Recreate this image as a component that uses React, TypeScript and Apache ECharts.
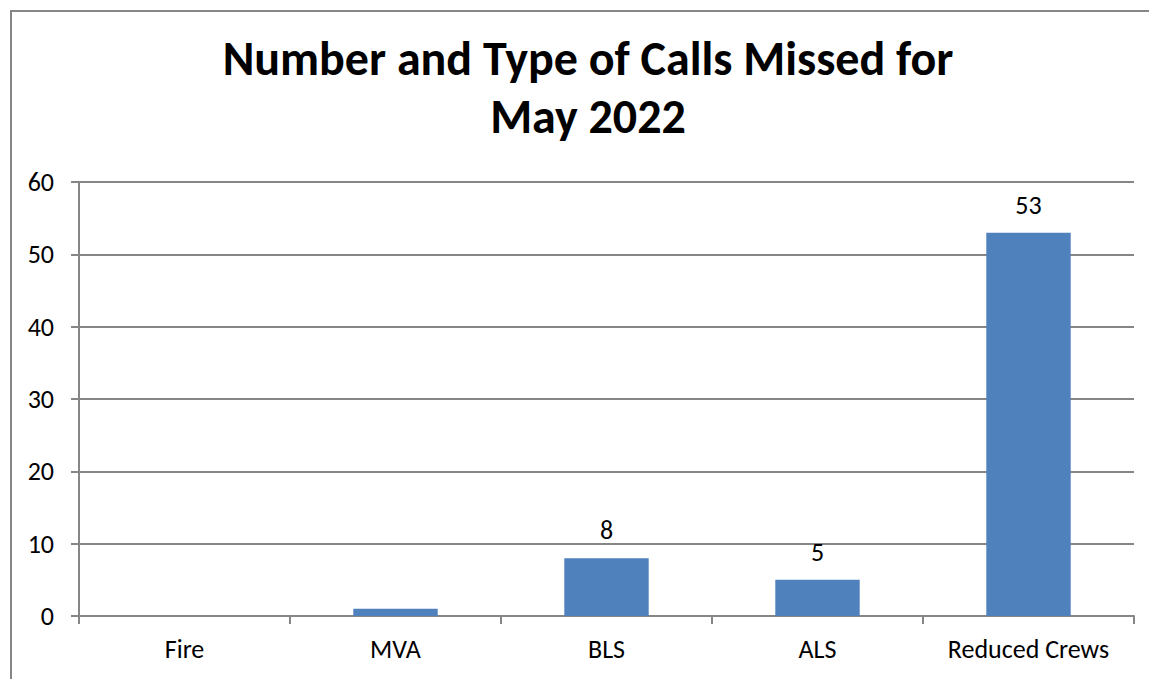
import React, { useEffect, useRef } from "react";
import * as echarts from "echarts";

const categories = ["Fire", "MVA", "BLS", "ALS", "Reduced Crews"];
const values = [0, 1, 8, 5, 53];
const showLabel = [false, false, true, true, true];
const titleLines = ["Number and Type of Calls Missed for", "May 2022"];
const yTicks = { min: 0, max: 60, interval: 10 };

const FONT = "Carlito, Lato, sans-serif";
const GRAY = "#868686";

export default function App() {
  const ref = useRef<HTMLDivElement>(null);
  useEffect(() => {
    if (!ref.current) return;
    const chart = echarts.init(ref.current, undefined, { renderer: "svg" });
    chart.setOption({
      animation: false,
      backgroundColor: "#ffffff",
      textStyle: { fontFamily: FONT },
      grid: { left: 79, right: 15, top: 182, bottom: 63, containLabel: false },
      graphic: [
        {
          type: "rect",
          shape: { x: 11, y: 11, width: 1300, height: 1000 },
          style: { fill: "none", stroke: GRAY, lineWidth: 2 },
          silent: true,
        },
        {
          type: "text",
          x: 588,
          y: 58,
          style: {
            text: titleLines[0],
            textAlign: "center",
            textVerticalAlign: "middle",
            font: `bold 48px ${FONT}`,
            fill: "#000000",
          },
        },
        {
          type: "text",
          x: 588,
          y: 116,
          style: {
            text: titleLines[1],
            textAlign: "center",
            textVerticalAlign: "middle",
            font: `bold 48px ${FONT}`,
            fill: "#000000",
          },
        },
      ],
      xAxis: {
        type: "category",
        data: categories,
        boundaryGap: true,
        axisLine: { show: true, lineStyle: { color: GRAY, width: 2 } },
        axisTick: { show: true, length: 8, alignWithLabel: false, lineStyle: { color: GRAY, width: 2 } },
        axisLabel: { color: "#000000", fontSize: 26, fontFamily: FONT, margin: 20, interval: 0 },
        splitLine: { show: false },
      },
      yAxis: {
        type: "value",
        min: yTicks.min,
        max: yTicks.max,
        interval: yTicks.interval,
        axisLine: { show: true, lineStyle: { color: GRAY, width: 2 } },
        axisTick: { show: true, length: 8, lineStyle: { color: GRAY, width: 2 } },
        axisLabel: { color: "#000000", fontSize: 26, fontFamily: FONT, margin: 25 },
        splitLine: { show: true, lineStyle: { color: GRAY, width: 2 } },
      },
      series: [
        {
          type: "bar",
          barWidth: "40%",
          itemStyle: { color: "#4F81BD" },
          data: values.map((v, i) => ({
            value: v,
            label: {
              show: showLabel[i],
              position: "top",
              distance: 15,
              color: "#000000",
              fontSize: 26,
              fontFamily: FONT,
            },
          })),
        },
      ],
    });
    return () => chart.dispose();
  }, []);
  return (
    <div
      ref={ref}
      style={{ position: "fixed", left: 0, top: 0, width: 1149, height: 679 }}
    />
  );
}
